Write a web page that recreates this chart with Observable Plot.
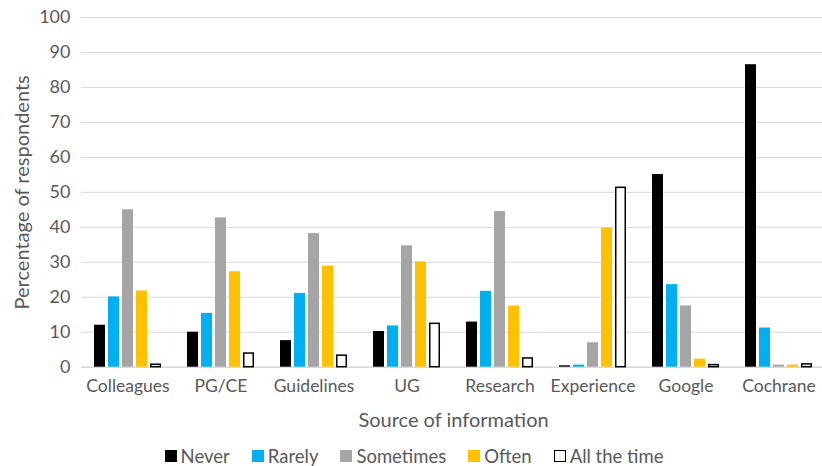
<!DOCTYPE html>
<html><head><meta charset="utf-8">
<script src="https://cdn.jsdelivr.net/npm/d3@7"></script>
<script src="https://cdn.jsdelivr.net/npm/@observablehq/plot@0.6"></script>
<style>
body{margin:0;background:#fff;font-family:Lato,sans-serif;width:822px;height:466px;overflow:hidden;}
#chart svg{display:block;overflow:visible;}
#legend{display:flex;justify-content:center;align-items:center;height:20px;line-height:20px;font-size:18.5px;color:#595959;margin-left:6px;}
#legend .item{display:flex;align-items:center;margin:0 11px;}
#legend .sw{width:12px;height:12px;margin-right:4px;box-sizing:border-box;}
</style></head><body><div id="chart"></div><div id="legend"></div><script>
const sources = ["Colleagues","PG/CE","Guidelines","UG","Research","Experience","Google","Cochrane"];
const frequencies = ["Never","Rarely","Sometimes","Often","All the time"];
const never      = [12.0, 10.0,  7.6, 10.2, 12.9,  0.4, 55.1, 86.5];
const rarely     = [20.1, 15.4, 21.1, 11.8, 21.7,  0.6, 23.6, 11.2];
const sometimes  = [45.0, 42.7, 38.2, 34.7, 44.5,  7.0, 17.5,  0.6];
const often      = [21.8, 27.3, 28.9, 30.1, 17.5, 39.8,  2.3,  0.6];
const allTheTime = [ 0.7,  3.9,  3.3, 12.4,  2.5, 51.3,  0.6,  0.8];
const fillColors = ["#000000","#00B0F0","#A5A5A5","#FFC000","#FFFFFF"];
const yTicks = [0,10,20,30,40,50,60,70,80,90,100];

const seriesValues = [never, rarely, sometimes, often, allTheTime];
const data = [];
sources.forEach((s, i) => frequencies.forEach((f, j) => data.push({source: s, freq: f, value: seriesValues[j][i]})));

const textColor = "#595959";
const chart = Plot.plot({
  width: 822,
  height: 446,
  marginLeft: 79,
  marginRight: -5,
  marginTop: 17,
  marginBottom: 79.3,
  style: {fontFamily: "Lato, sans-serif", color: textColor, background: "#fff"},
  fx: {domain: sources, padding: 0},
  x: {domain: frequencies, paddingInner: 0.2, paddingOuter: 0.87, axis: null},
  y: {domain: [0, 100]},
  color: {domain: frequencies, range: fillColors},
  marks: [
    Plot.gridY(yTicks, {stroke: "#d9d9d9", strokeOpacity: 1, strokeWidth: 1}),
    Plot.ruleY([0], {stroke: "#d9d9d9", strokeWidth: 1.5}),
    Plot.barY(data.filter(d => d.freq !== "All the time"), {fx: "source", x: "freq", y: "value", fill: "freq"}),
    Plot.barY(data.filter(d => d.freq === "All the time"), {fx: "source", x: "freq", y: "value", fill: "white", stroke: "black", strokeWidth: 1.5, insetLeft: 0.75, insetRight: 0.75}),
    Plot.axisY(yTicks, {tickSize: 0, tickPadding: 11, fontSize: 18, label: null, fill: textColor}),
    Plot.axisY({ticks: [], tickSize: 0, label: "Percentage of respondents", labelAnchor: "center", labelArrow: "none", labelOffset: 67, fontSize: 20, fill: textColor}),
    Plot.axisFx({anchor: "bottom", tickSize: 0, tickPadding: 12, fontSize: 17.5, label: null, fill: textColor}),
    Plot.axisFx({anchor: "bottom", ticks: [], tickSize: 0, label: "Source of information", labelAnchor: "center", labelArrow: "none", labelOffset: 60, fontSize: 20, fill: textColor})
  ]
});
document.getElementById("chart").appendChild(chart);

const legend = document.getElementById("legend");
frequencies.forEach((f, j) => {
  const item = document.createElement("div");
  item.className = "item";
  const sw = document.createElement("div");
  sw.className = "sw";
  sw.style.background = fillColors[j];
  if (f === "All the time") sw.style.border = "1.5px solid #000";
  const lab = document.createElement("span");
  lab.textContent = f;
  item.appendChild(sw); item.appendChild(lab);
  legend.appendChild(item);
});
</script></body></html>
